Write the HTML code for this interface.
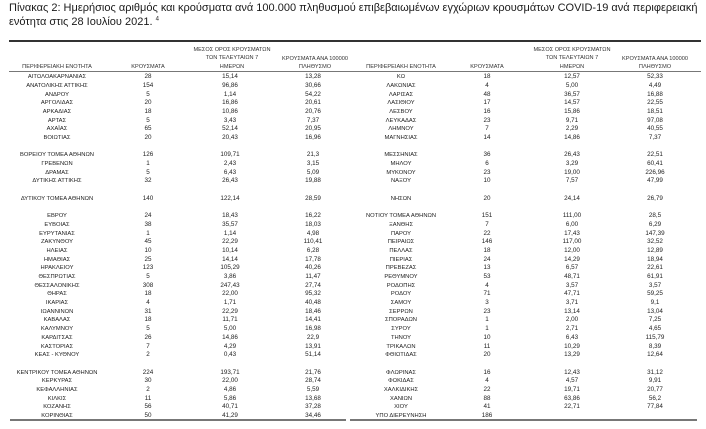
<!DOCTYPE html>
<html><head><meta charset="utf-8"><style>
body{margin:0;width:706px;height:429px;background:#fff;position:relative;overflow:hidden;font-family:"Liberation Sans","DejaVu Sans",sans-serif;}
.t{position:absolute;left:9px;font-size:11px;color:#1a1a1a;white-space:nowrap;}
.h{position:absolute;font-size:5.6px;color:#333;text-align:center;line-height:8.3px;white-space:nowrap;}
.side{position:absolute;top:73.2px;}
.r{height:8.69px;line-height:8.69px;position:relative;font-size:6.3px;color:#222;white-space:nowrap;}
.r span{position:absolute;top:0;text-align:center;}
.L .r span:nth-child(1){left:-43px;width:200px;font-size:5.8px}
.L .r span:nth-child(2){left:118px;width:60px}
.L .r span:nth-child(3){left:200px;width:60px}
.L .r span:nth-child(4){left:283px;width:60px}
.R .r span:nth-child(1){left:301px;width:200px;font-size:5.8px}
.R .r span:nth-child(2){left:457px;width:60px}
.R .r span:nth-child(3){left:542px;width:60px}
.R .r span:nth-child(4){left:625px;width:60px}
.line{position:absolute;}
</style></head><body>
<div class="t" style="top:2px">Πίνακας 2: Ημερήσιος αριθμός και κρούσματα ανά 100.000 πληθυσμού επιβεβαιωμένων εγχώριων κρουσμάτων COVID-19 ανά περιφερειακή</div>
<div class="t" style="top:16px">ενότητα στις 28 Ιουλίου 2021. <sup style="font-size:6px">4</sup></div>
<div class="line" style="left:9px;top:40px;width:692px;height:1.5px;background:#333"></div>

<div class="h" style="left:-43px;width:200px;top:63px">ΠΕΡΙΦΕΡΕΙΑΚΗ ΕΝΟΤΗΤΑ</div>
<div class="h" style="left:118px;width:60px;top:63px">ΚΡΟΥΣΜΑΤΑ</div>
<div class="h" style="left:182px;width:100px;top:46px">ΜΕΣΟΣ ΟΡΟΣ ΚΡΟΥΣΜΑΤΩΝ<br>ΤΩΝ ΤΕΛΕΥΤΑΙΩΝ 7<br>ΗΜΕΡΩΝ</div>
<div class="h" style="left:265px;width:100px;top:54.5px">ΚΡΟΥΣΜΑΤΑ ΑΝΑ 100000<br>ΠΛΗΘΥΣΜΟ</div>
<div class="h" style="left:301px;width:200px;top:63px">ΠΕΡΙΦΕΡΕΙΑΚΗ ΕΝΟΤΗΤΑ</div>
<div class="h" style="left:457px;width:60px;top:63px">ΚΡΟΥΣΜΑΤΑ</div>
<div class="h" style="left:522px;width:100px;top:46px">ΜΕΣΟΣ ΟΡΟΣ ΚΡΟΥΣΜΑΤΩΝ<br>ΤΩΝ ΤΕΛΕΥΤΑΙΩΝ 7<br>ΗΜΕΡΩΝ</div>
<div class="h" style="left:605px;width:100px;top:54.5px">ΚΡΟΥΣΜΑΤΑ ΑΝΑ 100000<br>ΠΛΗΘΥΣΜΟ</div>
<div class="line" style="left:9px;top:70.5px;width:692px;height:0.8px;background:#777"></div>

<div class="side L">
<div class="r"><span>ΑΙΤΩΛΟΑΚΑΡΝΑΝΙΑΣ</span><span>28</span><span>15,14</span><span>13,28</span></div>
<div class="r"><span>ΑΝΑΤΟΛΙΚΗΣ ΑΤΤΙΚΗΣ</span><span>154</span><span>96,86</span><span>30,66</span></div>
<div class="r"><span>ΑΝΔΡΟΥ</span><span>5</span><span>1,14</span><span>54,22</span></div>
<div class="r"><span>ΑΡΓΟΛΙΔΑΣ</span><span>20</span><span>16,86</span><span>20,61</span></div>
<div class="r"><span>ΑΡΚΑΔΙΑΣ</span><span>18</span><span>10,86</span><span>20,76</span></div>
<div class="r"><span>ΑΡΤΑΣ</span><span>5</span><span>3,43</span><span>7,37</span></div>
<div class="r"><span>ΑΧΑΪΑΣ</span><span>65</span><span>52,14</span><span>20,95</span></div>
<div class="r"><span>ΒΟΙΩΤΙΑΣ</span><span>20</span><span>20,43</span><span>16,96</span></div>
<div class="r"></div>
<div class="r"><span>ΒΟΡΕΙΟΥ ΤΟΜΕΑ ΑΘΗΝΩΝ</span><span>126</span><span>109,71</span><span>21,3</span></div>
<div class="r"><span>ΓΡΕΒΕΝΩΝ</span><span>1</span><span>2,43</span><span>3,15</span></div>
<div class="r"><span>ΔΡΑΜΑΣ</span><span>5</span><span>6,43</span><span>5,09</span></div>
<div class="r"><span>ΔΥΤΙΚΗΣ ΑΤΤΙΚΗΣ</span><span>32</span><span>26,43</span><span>19,88</span></div>
<div class="r"></div>
<div class="r"><span>ΔΥΤΙΚΟΥ ΤΟΜΕΑ ΑΘΗΝΩΝ</span><span>140</span><span>122,14</span><span>28,59</span></div>
<div class="r"></div>
<div class="r"><span>ΕΒΡΟΥ</span><span>24</span><span>18,43</span><span>16,22</span></div>
<div class="r"><span>ΕΥΒΟΙΑΣ</span><span>38</span><span>35,57</span><span>18,03</span></div>
<div class="r"><span>ΕΥΡΥΤΑΝΙΑΣ</span><span>1</span><span>1,14</span><span>4,98</span></div>
<div class="r"><span>ΖΑΚΥΝΘΟΥ</span><span>45</span><span>22,29</span><span>110,41</span></div>
<div class="r"><span>ΗΛΕΙΑΣ</span><span>10</span><span>10,14</span><span>6,28</span></div>
<div class="r"><span>ΗΜΑΘΙΑΣ</span><span>25</span><span>14,14</span><span>17,78</span></div>
<div class="r"><span>ΗΡΑΚΛΕΙΟΥ</span><span>123</span><span>105,29</span><span>40,26</span></div>
<div class="r"><span>ΘΕΣΠΡΩΤΙΑΣ</span><span>5</span><span>3,86</span><span>11,47</span></div>
<div class="r"><span>ΘΕΣΣΑΛΟΝΙΚΗΣ</span><span>308</span><span>247,43</span><span>27,74</span></div>
<div class="r"><span>ΘΗΡΑΣ</span><span>18</span><span>22,00</span><span>95,32</span></div>
<div class="r"><span>ΙΚΑΡΙΑΣ</span><span>4</span><span>1,71</span><span>40,48</span></div>
<div class="r"><span>ΙΩΑΝΝΙΝΩΝ</span><span>31</span><span>22,29</span><span>18,46</span></div>
<div class="r"><span>ΚΑΒΑΛΑΣ</span><span>18</span><span>11,71</span><span>14,41</span></div>
<div class="r"><span>ΚΑΛΥΜΝΟΥ</span><span>5</span><span>5,00</span><span>16,98</span></div>
<div class="r"><span>ΚΑΡΔΙΤΣΑΣ</span><span>26</span><span>14,86</span><span>22,9</span></div>
<div class="r"><span>ΚΑΣΤΟΡΙΑΣ</span><span>7</span><span>4,29</span><span>13,91</span></div>
<div class="r"><span>ΚΕΑΣ - ΚΥΘΝΟΥ</span><span>2</span><span>0,43</span><span>51,14</span></div>
<div class="r"></div>
<div class="r"><span>ΚΕΝΤΡΙΚΟΥ ΤΟΜΕΑ ΑΘΗΝΩΝ</span><span>224</span><span>193,71</span><span>21,76</span></div>
<div class="r"><span>ΚΕΡΚΥΡΑΣ</span><span>30</span><span>22,00</span><span>28,74</span></div>
<div class="r"><span>ΚΕΦΑΛΛΗΝΙΑΣ</span><span>2</span><span>4,86</span><span>5,59</span></div>
<div class="r"><span>ΚΙΛΚΙΣ</span><span>11</span><span>5,86</span><span>13,68</span></div>
<div class="r"><span>ΚΟΖΑΝΗΣ</span><span>56</span><span>40,71</span><span>37,28</span></div>
<div class="r"><span>ΚΟΡΙΝΘΙΑΣ</span><span>50</span><span>41,29</span><span>34,46</span></div>
</div>

<div class="side R">
<div class="r"><span>ΚΩ</span><span>18</span><span>12,57</span><span>52,33</span></div>
<div class="r"><span>ΛΑΚΩΝΙΑΣ</span><span>4</span><span>5,00</span><span>4,49</span></div>
<div class="r"><span>ΛΑΡΙΣΑΣ</span><span>48</span><span>36,57</span><span>16,88</span></div>
<div class="r"><span>ΛΑΣΙΘΙΟΥ</span><span>17</span><span>14,57</span><span>22,55</span></div>
<div class="r"><span>ΛΕΣΒΟΥ</span><span>16</span><span>15,86</span><span>18,51</span></div>
<div class="r"><span>ΛΕΥΚΑΔΑΣ</span><span>23</span><span>9,71</span><span>97,08</span></div>
<div class="r"><span>ΛΗΜΝΟΥ</span><span>7</span><span>2,29</span><span>40,55</span></div>
<div class="r"><span>ΜΑΓΝΗΣΙΑΣ</span><span>14</span><span>14,86</span><span>7,37</span></div>
<div class="r"></div>
<div class="r"><span>ΜΕΣΣΗΝΙΑΣ</span><span>36</span><span>26,43</span><span>22,51</span></div>
<div class="r"><span>ΜΗΛΟΥ</span><span>6</span><span>3,29</span><span>60,41</span></div>
<div class="r"><span>ΜΥΚΟΝΟΥ</span><span>23</span><span>19,00</span><span>226,96</span></div>
<div class="r"><span>ΝΑΞΟΥ</span><span>10</span><span>7,57</span><span>47,99</span></div>
<div class="r"></div>
<div class="r"><span>ΝΗΣΩΝ</span><span>20</span><span>24,14</span><span>26,79</span></div>
<div class="r"></div>
<div class="r"><span>ΝΟΤΙΟΥ ΤΟΜΕΑ ΑΘΗΝΩΝ</span><span>151</span><span>111,00</span><span>28,5</span></div>
<div class="r"><span>ΞΑΝΘΗΣ</span><span>7</span><span>6,00</span><span>6,29</span></div>
<div class="r"><span>ΠΑΡΟΥ</span><span>22</span><span>17,43</span><span>147,39</span></div>
<div class="r"><span>ΠΕΙΡΑΙΩΣ</span><span>146</span><span>117,00</span><span>32,52</span></div>
<div class="r"><span>ΠΕΛΛΑΣ</span><span>18</span><span>12,00</span><span>12,89</span></div>
<div class="r"><span>ΠΙΕΡΙΑΣ</span><span>24</span><span>14,29</span><span>18,94</span></div>
<div class="r"><span>ΠΡΕΒΕΖΑΣ</span><span>13</span><span>6,57</span><span>22,61</span></div>
<div class="r"><span>ΡΕΘΥΜΝΟΥ</span><span>53</span><span>48,71</span><span>61,91</span></div>
<div class="r"><span>ΡΟΔΟΠΗΣ</span><span>4</span><span>3,57</span><span>3,57</span></div>
<div class="r"><span>ΡΟΔΟΥ</span><span>71</span><span>47,71</span><span>59,25</span></div>
<div class="r"><span>ΣΑΜΟΥ</span><span>3</span><span>3,71</span><span>9,1</span></div>
<div class="r"><span>ΣΕΡΡΩΝ</span><span>23</span><span>13,14</span><span>13,04</span></div>
<div class="r"><span>ΣΠΟΡΑΔΩΝ</span><span>1</span><span>2,00</span><span>7,25</span></div>
<div class="r"><span>ΣΥΡΟΥ</span><span>1</span><span>2,71</span><span>4,65</span></div>
<div class="r"><span>ΤΗΝΟΥ</span><span>10</span><span>6,43</span><span>115,79</span></div>
<div class="r"><span>ΤΡΙΚΑΛΩΝ</span><span>11</span><span>10,29</span><span>8,39</span></div>
<div class="r"><span>ΦΘΙΩΤΙΔΑΣ</span><span>20</span><span>13,29</span><span>12,64</span></div>
<div class="r"></div>
<div class="r"><span>ΦΛΩΡΙΝΑΣ</span><span>16</span><span>12,43</span><span>31,12</span></div>
<div class="r"><span>ΦΩΚΙΔΑΣ</span><span>4</span><span>4,57</span><span>9,91</span></div>
<div class="r"><span>ΧΑΛΚΙΔΙΚΗΣ</span><span>22</span><span>19,71</span><span>20,77</span></div>
<div class="r"><span>ΧΑΝΙΩΝ</span><span>88</span><span>63,86</span><span>56,2</span></div>
<div class="r"><span>ΧΙΟΥ</span><span>41</span><span>22,71</span><span>77,84</span></div>
<div class="r"><span>ΥΠΟ ΔΙΕΡΕΥΝΗΣΗ</span><span>186</span><span></span><span></span></div>
</div>

<div class="line" style="left:10px;top:419px;width:336px;height:1.6px;background:#777"></div>
<div class="line" style="left:350px;top:419px;width:347px;height:1.6px;background:#777"></div>
</body></html>
